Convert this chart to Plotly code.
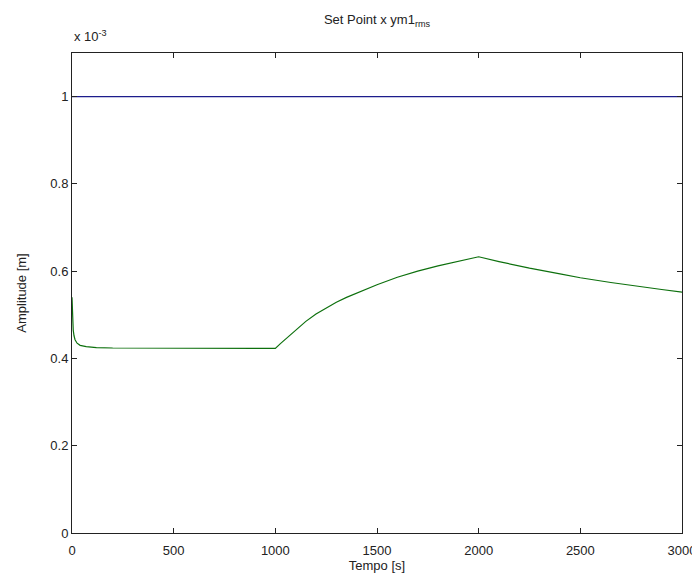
import plotly.graph_objects as go

# Time [s]
t_setpoint = [0, 3000]
setpoint = [1.0, 1.0]  # x 10^-3 m

t_ym1 = [0, 1, 3, 6, 10, 15, 25, 40, 70, 120, 200, 500, 1000,
         1025, 1050, 1075, 1100, 1150, 1200, 1250, 1300, 1350, 1400, 1450, 1500,
         1600, 1700, 1800, 1900, 2000,
         2100, 2250, 2400, 2500, 2650, 2750, 2900, 3000]
ym1_rms = [0.54, 0.52, 0.49, 0.465, 0.452, 0.443, 0.435, 0.430, 0.427, 0.425, 0.424, 0.423, 0.423,
           0.434, 0.444, 0.455, 0.466, 0.485, 0.502, 0.516, 0.529, 0.540, 0.550, 0.560, 0.569,
           0.586, 0.600, 0.612, 0.622, 0.633,
           0.622, 0.607, 0.594, 0.585, 0.574, 0.567, 0.558, 0.552]  # x 10^-3 m

x_ticks = [0, 500, 1000, 1500, 2000, 2500, 3000]
y_ticks = [0, 0.2, 0.4, 0.6, 0.8, 1.0]
y_tick_text = ["0", "0.2", "0.4", "0.6", "0.8", "1"]

font = dict(family="Liberation Sans, Arial, sans-serif", size=13, color="#222222")

fig = go.Figure()
fig.add_trace(go.Scatter(x=t_setpoint, y=setpoint, mode="lines",
                         line=dict(color="#1c1c8c", width=1.2), showlegend=False))
fig.add_trace(go.Scatter(x=t_ym1, y=ym1_rms, mode="lines",
                         line=dict(color="#0d700d", width=1.2), showlegend=False))

axis_common = dict(showline=True, linecolor="#222222", linewidth=1, mirror="ticks",
                   ticks="inside", ticklen=5, tickcolor="#222222", showgrid=False,
                   zeroline=False, tickfont=font, automargin=False)

fig.update_xaxes(range=[0, 3000], tickvals=x_ticks, ticklabelstandoff=5,
                 title=dict(text="Tempo [s]", font=font, standoff=2), **axis_common)
fig.update_yaxes(range=[0, 1.1], tickvals=y_ticks, ticktext=y_tick_text,
                 title=dict(text="Amplitude [m]", font=font, standoff=20), **axis_common)

fig.update_layout(
    width=700, height=567,
    margin=dict(l=64, r=26, t=45, b=42),
    paper_bgcolor="white", plot_bgcolor="white",
    font=font,
    title=dict(text="Set Point x ym1<sub>rms</sub>", x=(64 + 305) / 700, xanchor="center",
               y=0.988, yanchor="top", font=font),
    annotations=[dict(text="x 10<sup>-3</sup>", xref="paper", yref="paper",
                      x=0, y=1.0, xanchor="left", yanchor="bottom", yshift=7,
                      showarrow=False, font=font)],
)

fig.write_html("out.html")
